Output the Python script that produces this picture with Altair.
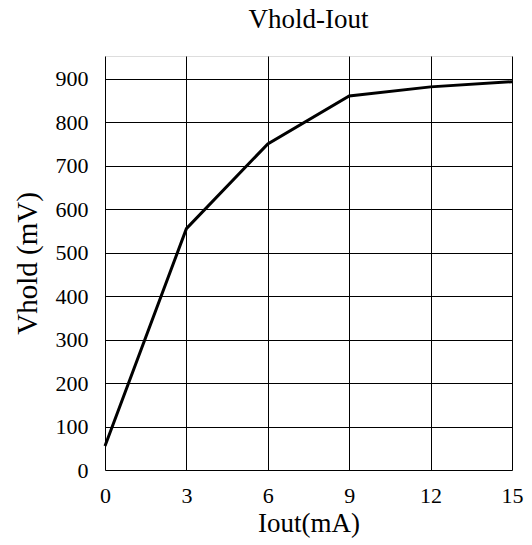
import altair as alt
import pandas as pd

iout = [0, 3, 6, 9, 12, 15]
vhold = [55, 555, 750, 860, 881, 893]

df = pd.DataFrame({"Iout": iout, "Vhold": vhold})

font = "Liberation Serif"

chart = alt.Chart(df).mark_line(color="black", strokeWidth=3).encode(
    x=alt.X("Iout:Q", title="Iout(mA)",
            scale=alt.Scale(domain=[0, 15], nice=False, zero=False),
            axis=alt.Axis(values=[0, 3, 6, 9, 12, 15], ticks=False, labelPadding=15,
                          labelFlush=False, titlePadding=4, labelFontSize=22, titleFontSize=27,
                          labelFont=font, titleFont=font, labelColor="black",
                          titleColor="black", titleFontWeight="normal",
                          domain=False, gridColor="black", gridOpacity=1, gridWidth=1)),
    y=alt.Y("Vhold:Q", title="Vhold (mV)",
            scale=alt.Scale(domain=[0, 952], nice=False),
            axis=alt.Axis(values=[0, 100, 200, 300, 400, 500, 600, 700, 800, 900],
                          ticks=False, labelPadding=17, titlePadding=13, labelFlush=False,
                          labelFontSize=22, titleFontSize=29,
                          labelFont=font, titleFont=font, labelColor="black",
                          titleColor="black", titleFontWeight="normal",
                          domain=False, gridColor="black", gridOpacity=1, gridWidth=1)),
).properties(
    width=407, height=414,
    title=alt.TitleParams("Vhold-Iout", font=font, fontSize=27, fontWeight="normal",
                          color="black", offset=22),
    autosize=alt.AutoSizeParams(type="none"),
    padding={"left": 105, "top": 56, "right": 20, "bottom": 75},
).configure_view(stroke="black", strokeWidth=1.5).configure(background="white")

chart.save("out.html", embed_options={"renderer": "svg", "actions": False})
